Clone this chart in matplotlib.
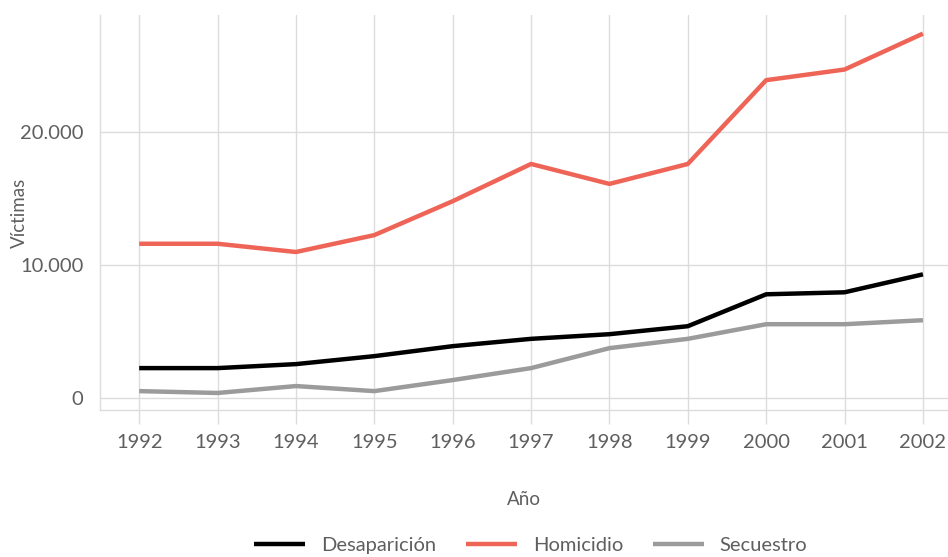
import matplotlib.pyplot as plt
from matplotlib.ticker import FuncFormatter

years = [1992, 1993, 1994, 1995, 1996, 1997, 1998, 1999, 2000, 2001, 2002]
desaparicion = [2250, 2250, 2550, 3150, 3900, 4450, 4800, 5400, 7800, 7950, 9300]
homicidio = [11600, 11600, 10980, 12250, 14800, 17600, 16100, 17600, 23900, 24700, 27400]
secuestro = [520, 380, 900, 520, 1350, 2250, 3750, 4450, 5550, 5550, 5850]

series = [
    ("Desaparición", desaparicion, "#000000"),
    ("Homicidio", homicidio, "#EE6557"),
    ("Secuestro", secuestro, "#9B9B9B"),
]

plt.rcParams["font.family"] = ["Lato", "DejaVu Sans"]
TXT = "#5f5f5f"
GRID = "#dcdcdc"

fig = plt.figure(figsize=(9.48, 5.57), dpi=100)
ax = fig.add_axes([100 / 948, 1 - 410 / 557, 848 / 948, 395 / 557])

for name, vals, col in series:
    ax.plot(years, vals, color=col, linewidth=3.2, label=name, solid_capstyle="butt")

ax.set_xlim(1991.50, 2002.32)
ax.set_ylim(-900, 28800)
ax.set_xticks(years)
ax.set_yticks([0, 10000, 20000])
ax.yaxis.set_major_formatter(FuncFormatter(lambda v, p: f"{int(v):,}".replace(",", ".")))

ax.grid(True, color=GRID, linewidth=1)
ax.set_axisbelow(True)
for s in ["top", "right"]:
    ax.spines[s].set_visible(False)
for s in ["left", "bottom"]:
    ax.spines[s].set_color(GRID)
    ax.spines[s].set_linewidth(1)
ax.tick_params(axis="x", length=10, color=GRID, width=1, labelsize=14.5, labelcolor=TXT, pad=7)
ax.tick_params(axis="y", length=0, labelsize=14.5, labelcolor=TXT, pad=12)

ax.set_xlabel("Año", fontsize=13.5, color=TXT)
ax.set_ylabel("Víctimas", fontsize=13.5, color=TXT)
ax.xaxis.set_label_coords(0.5, -0.205)
ax.yaxis.set_label_coords(-0.085, 0.5)

fig.legend(loc="lower center", bbox_to_anchor=(0.56, -0.027), ncol=3, frameon=False,
           fontsize=14.5, labelcolor=TXT, handlelength=2.5, handletextpad=0.8, columnspacing=1.5)

fig.savefig("out.png", dpi=100)
